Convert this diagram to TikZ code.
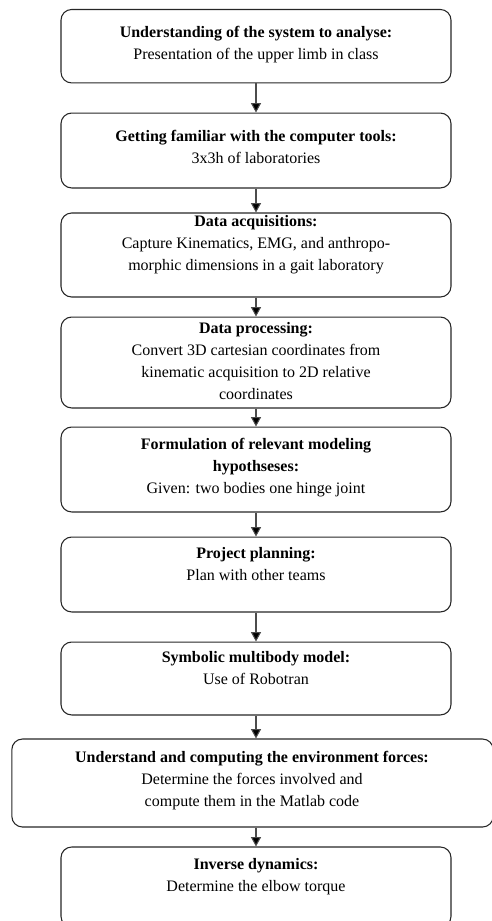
\documentclass[tikz,border=0pt]{standalone}
\usepackage{fontspec}
\setmainfont{Liberation Serif}
\usetikzlibrary{arrows.meta}
\begin{document}
\begin{tikzpicture}[x=0.75pt,y=-0.75pt,
  stepbox/.style={draw=black!85, line width=0.8pt, rounded corners=8pt,
    inner sep=0pt, minimum width=292.5pt},
  wide/.style={minimum width=361pt},
  txt/.style={align=center, inner sep=0pt,
    font=\fontsize{12pt}{16.5pt}\selectfont},
  flow/.style={draw=black!70, line width=0.8pt,
    -{Triangle[width=7.5pt,length=7pt,fill=black]}}]
\useasboundingbox (0,0) rectangle (492,921);

% boxes (centre, height in px * 0.75)
\node[stepbox, minimum height=55.1pt] (b1) at (256,46.2) {};
\node[stepbox, minimum height=56.2pt] (b2) at (256,150.5) {};
\node[stepbox, minimum height=63pt]   (b3) at (256,255) {};
\node[stepbox, minimum height=68.2pt] (b4) at (256,362.5) {};
\node[stepbox, minimum height=63.7pt] (b5) at (256,469.5) {};
\node[stepbox, minimum height=56.2pt] (b6) at (256,574.5) {};
\node[stepbox, minimum height=54.7pt] (b7) at (256,678.5) {};
\node[stepbox, wide, minimum height=66pt] (b8) at (252.5,783) {};
\node[stepbox, minimum height=60pt]   (b9) at (256,887) {};

% texts
\node[txt] (t1) at (256,44.5) {\textbf{Understanding of the system to analyse:}\\Presentation of the upper limb in class};
\node[txt] (t2) at (256,147) {\textbf{Getting familiar with the computer tools:}\\3x3h of laboratories};
\node[txt] (t3) at (256,245) {\textbf{Data acquisitions:}\\Capture Kinematics, EMG, and anthropo-\\morphic dimensions in a gait laboratory};
\node[txt] (t4) at (256,361) {\textbf{Data processing:}\\Convert 3D cartesian coordinates from\\kinematic acquisition to 2D relative\\coordinates};
\node[txt] (t5) at (256,468) {\textbf{Formulation of relevant modeling}\\\textbf{hypothseses:}\\Given: two bodies one hinge joint};
\node[txt] (t6) at (256,564) {\textbf{Project planning:}\\Plan with other teams};
\node[txt] (t7) at (256,668.5) {\textbf{Symbolic multibody model:}\\Use of Robotran};
\node[txt] (t8) at (252,781) {\textbf{Understand and computing the environment forces:}\\Determine the forces involved and\\compute them in the Matlab code};
\node[txt] (t9) at (256,877) {\textbf{Inverse dynamics:}\\Determine the elbow torque};

% connectors
\draw[flow] (b1.south) -- (b2.north);
\draw[flow] (b2.south) -- (b3.north);
\draw[flow] (b3.south) -- (b4.north);
\draw[flow] (b4.south) -- (b5.north);
\draw[flow] (b5.south) -- (b6.north);
\draw[flow] (b6.south) -- (b7.north);
\draw[flow] (b7.south) -- (b7.south |- b8.north);
\draw[flow] (b7.south |- b8.south) -- (b9.north);
\end{tikzpicture}
\end{document}
